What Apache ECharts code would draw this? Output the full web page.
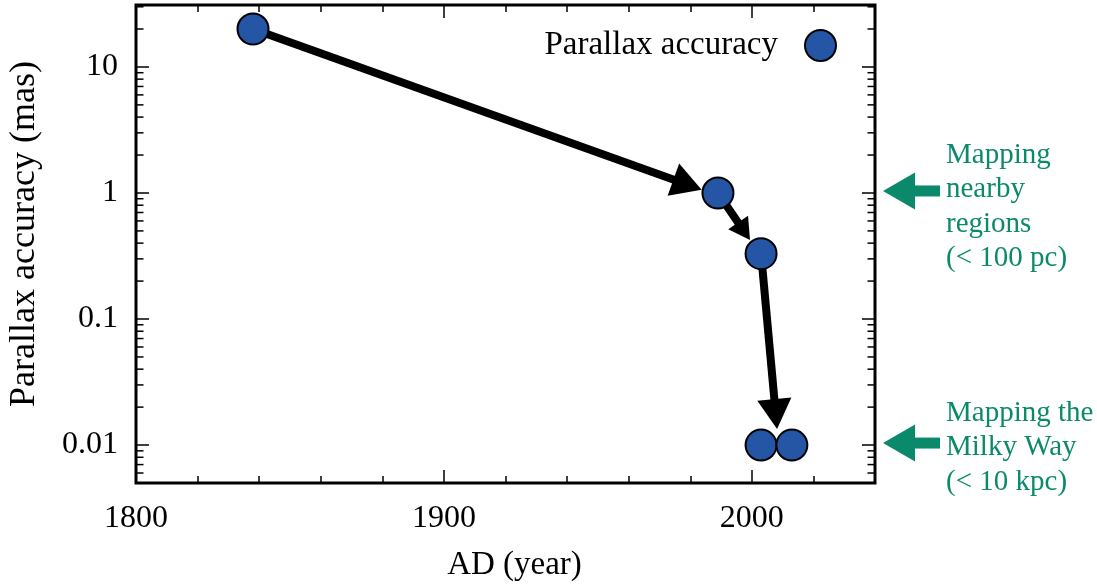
<!DOCTYPE html>
<html>
<head>
<meta charset="utf-8">
<script src="https://cdn.jsdelivr.net/npm/echarts@6/dist/echarts.min.js"></script>
<style>
html,body{margin:0;padding:0;background:#fff}
#chart{width:1097px;height:585px}
</style>
</head>
<body>
<div id="chart"></div>
<script>
var years = [1838, 1989, 2003, 2003, 2013];
var accuracy = [20, 1, 0.33, 0.01, 0.01];

// black arrows: start point -> tip, in (year, mas)
var arrowStart = [[1838, 20], [1989, 1], [2003, 0.33]];
var arrowTip = [[1983.7, 1.06], [1999.4, 0.424], [2008.2, 0.0134]];

// green side notes
var noteLevels = [1, 0.01];
var noteTexts = ['Mapping\nnearby\nregions\n(< 100 pc)', 'Mapping the\nMilky Way\n(< 10 kpc)'];

// log minor tick values
var minorTickValues = [0.006, 0.007, 0.008, 0.009,
	0.02, 0.03, 0.04, 0.05, 0.06, 0.07, 0.08, 0.09,
	0.2, 0.3, 0.4, 0.5, 0.6, 0.7, 0.8, 0.9,
	2, 3, 4, 5, 6, 7, 8, 9, 20, 30];

var yMin = 0.005, yMax = 31;
var xMin = 1800, xMax = 2040;

var FONT = '"Liberation Serif", "Times New Roman", serif';
var GREEN = '#0b8a6b';

var points = years.map(function (y, i) { return [y, accuracy[i]]; });
var arrows = arrowStart.map(function (s, i) { return [s[0], s[1], arrowTip[i][0], arrowTip[i][1]]; });
var notes = noteLevels.map(function (v) { return [xMax, v]; });
var leftMinor = minorTickValues.map(function (v) { return [xMin, v]; });
var rightMinor = minorTickValues.map(function (v) { return [xMax, v]; });

function xAxisOf(pos, step, tickLen, labels) {
	return {
		type: 'value', position: pos, min: xMin, max: xMax, interval: step,
		axisLine: { show: false },
		axisTick: { show: true, inside: true, length: tickLen, lineStyle: { color: '#000', width: 1.5 } },
		axisLabel: labels ? {
			show: true, fontFamily: FONT, fontSize: 32, color: '#000', margin: 20, showMaxLabel: false,
			formatter: function (v) { return String(v); }
		} : { show: false },
		splitLine: { show: false }
	};
}
function yAxisOf(pos, labels) {
	return {
		type: 'log', logBase: 10, position: pos, min: yMin, max: yMax,
		axisLine: { show: false },
		axisTick: { show: true, inside: true, length: 13, lineStyle: { color: '#000', width: 1.5 } },
		axisLabel: labels ? { show: true, fontFamily: FONT, fontSize: 32, color: '#000', margin: 18, showMinLabel: false, showMaxLabel: false } : { show: false },
		splitLine: { show: false }
	};
}
function minorSeries(name, data, offset) {
	return {
		name: name, type: 'scatter', data: data, silent: true, clip: false, z: 5,
		symbol: 'rect', symbolSize: [7, 1.5], symbolOffset: [offset, 0],
		itemStyle: { color: '#000', opacity: 1 },
		emphasis: { disabled: true }
	};
}

var xBottom = xAxisOf('bottom', 100, 13, true);
xBottom.name = 'AD (year)';
xBottom.nameLocation = 'middle';
xBottom.nameGap = 66;
xBottom.nameTextStyle = { fontFamily: FONT, fontSize: 33, color: '#000', padding: [0, 0, 0, 18] };

var yLeft = yAxisOf('left', true);
yLeft.name = 'Parallax accuracy (mas)';
yLeft.nameLocation = 'middle';
yLeft.nameGap = 93;
yLeft.nameTextStyle = { fontFamily: FONT, fontSize: 36, color: '#000', padding: [0, 0, 0, 20] };

var chart = echarts.init(document.getElementById('chart'));
chart.setOption({
	backgroundColor: '#fff',
	animation: false,
	grid: {
		left: 136, right: 222, top: 5, bottom: 102, outerBoundsMode: 'none',
		show: true, borderColor: '#000', borderWidth: 3
	},
	legend: {
		data: ['Parallax accuracy'], right: 255, top: 24, align: 'right', icon: 'circle',
		itemWidth: 31, itemHeight: 31,
		textStyle: { fontFamily: FONT, fontSize: 33, color: '#000', padding: [0, 22, 0, 0] }
	},
	xAxis: [xBottom, xAxisOf('bottom', 20, 7, false), xAxisOf('top', 100, 13, false), xAxisOf('top', 20, 7, false)],
	yAxis: [yLeft, yAxisOf('right', false)],
	series: [
		minorSeries('minor left', leftMinor, 4),
		minorSeries('minor right', rightMinor, -4),
		{
			name: 'arrows', type: 'custom', data: arrows, silent: true,
			encode: { x: [0, 2], y: [1, 3] },
			renderItem: function (params, api) {
				var a = api.coord([api.value(0), api.value(1)]);
				var b = api.coord([api.value(2), api.value(3)]);
				var dx = b[0] - a[0], dy = b[1] - a[1];
				var dist = Math.sqrt(dx * dx + dy * dy);
				var ux = dx / dist, uy = dy / dist;
				var hl = Math.min(30, dist * 0.37), hw = hl * 0.57;
				var bx = b[0] - ux * hl, by = b[1] - uy * hl;
				return { type: 'group', children: [
					{ type: 'line', shape: { x1: a[0], y1: a[1], x2: bx + ux * 2, y2: by + uy * 2 }, style: { stroke: '#000', lineWidth: 8 } },
					{ type: 'polygon', shape: { points: [[b[0], b[1]], [bx - uy * hw, by + ux * hw], [bx + uy * hw, by - ux * hw]] }, style: { fill: '#000' } }
				] };
			}
		},
		{
			name: 'Parallax accuracy', type: 'scatter', data: points, z: 3,
			symbol: 'circle', symbolSize: 31,
			itemStyle: { color: '#2556a6', borderColor: '#000', borderWidth: 2, opacity: 1 }
		},
		{
			name: 'notes', type: 'custom', data: notes, silent: true, clip: false,
			renderItem: function (params, api) {
				var p = api.coord([api.value(0), api.value(1)]);
				var x = p[0], y = p[1] - 2;
				var lines = noteTexts[params.dataIndex].split('\n').length;
				var ty = y - (lines === 4 ? 53 : 47);
				return { type: 'group', children: [
					{ type: 'polygon', shape: { points: [[x + 8, y], [x + 40, y - 18.5], [x + 40, y + 18.5]] }, style: { fill: GREEN } },
					{ type: 'rect', shape: { x: x + 39, y: y - 5.5, width: 26, height: 11 }, style: { fill: GREEN } },
					{ type: 'text', style: { x: x + 71, y: ty, text: noteTexts[params.dataIndex], fill: GREEN, font: '29px ' + FONT, lineHeight: 34.5, align: 'left', verticalAlign: 'top' } }
				] };
			}
		}
	]
});
</script>
</body>
</html>
